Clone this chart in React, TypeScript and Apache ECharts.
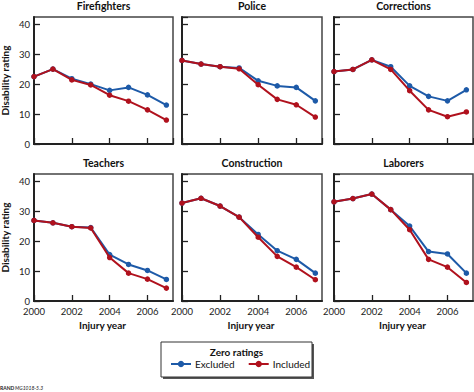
import React, { useEffect, useRef } from "react";
import * as echarts from "echarts";

const years = [2000, 2001, 2002, 2003, 2004, 2005, 2006, 2007];
const panelTitles = ["Firefighters", "Police", "Corrections", "Teachers", "Construction", "Laborers"];

const excludedFirefighters = [22.5, 25.0, 21.8, 20.0, 17.9, 18.9, 16.4, 13.0];
const includedFirefighters = [22.5, 25.0, 21.4, 19.7, 16.3, 14.3, 11.4, 8.0];
const excludedPolice = [27.9, 26.7, 25.8, 25.4, 21.1, 19.4, 18.9, 14.4];
const includedPolice = [27.9, 26.7, 25.8, 25.1, 19.8, 14.9, 13.1, 9.0];
const excludedCorrections = [24.2, 24.9, 28.1, 25.8, 19.4, 15.9, 14.4, 18.1];
const includedCorrections = [24.2, 24.9, 28.1, 24.9, 17.8, 11.4, 9.1, 10.7];
const excludedTeachers = [26.9, 26.1, 24.8, 24.5, 15.5, 12.2, 10.2, 7.2];
const includedTeachers = [26.9, 26.1, 24.8, 24.4, 14.5, 9.3, 7.3, 4.3];
const excludedConstruction = [32.7, 34.3, 31.7, 28.0, 22.2, 16.8, 13.9, 9.3];
const includedConstruction = [32.7, 34.3, 31.7, 28.0, 21.3, 14.9, 11.3, 7.1];
const excludedLaborers = [33.1, 34.2, 35.7, 30.5, 25.0, 16.5, 15.7, 9.3];
const includedLaborers = [33.1, 34.2, 35.7, 30.5, 23.8, 13.9, 11.3, 6.2];

const excludedAll = [excludedFirefighters, excludedPolice, excludedCorrections, excludedTeachers, excludedConstruction, excludedLaborers];
const includedAll = [includedFirefighters, includedPolice, includedCorrections, includedTeachers, includedConstruction, includedLaborers];

const xTickLabels = [2000, 2002, 2004, 2006];
const yTickLabels = [0, 10, 20, 30, 40];
const seriesNames = ["Excluded", "Included"];
const legendTitle = "Zero ratings";
const xAxisTitle = "Injury year";
const yAxisTitle = "Disability rating";

const BLUE = "#1d5aa8";
const RED = "#b0111d";
const FONT = "Lato, 'Liberation Sans', sans-serif";

export default function App() {
  const ref = useRef<HTMLDivElement>(null);
  useEffect(() => {
    if (!ref.current) return;
    const chart = echarts.init(ref.current, null, { renderer: "svg" });
    const colLeft = [34, 182, 334];
    const colWidth = [139, 140, 139];
    const rowTop = [17, 174];
    const rowHeight = 127;

    const grids: any[] = [];
    const xAxes: any[] = [];
    const yAxes: any[] = [];
    const series: any[] = [];
    const graphics: any[] = [];

    for (let i = 0; i < 6; i++) {
      const r = Math.floor(i / 3);
      const c = i % 3;
      grids.push({
        left: colLeft[c],
        top: rowTop[r],
        width: colWidth[c],
        height: rowHeight,
        show: true,
        borderColor: "#444",
        borderWidth: 1.5,
        backgroundColor: "transparent",
      });
      xAxes.push({
        type: "value",
        gridIndex: i,
        min: 2000,
        max: 2007.35,
        interval: 2,
        axisLine: { show: true, onZero: false, lineStyle: { color: "#222", width: 2 } },
        axisTick: { show: true, inside: true, length: 6, lineStyle: { color: "#222", width: 1.3 } },
        splitLine: { show: false },
        axisLabel: {
          show: r === 1,
          showMaxLabel: false,
          fontSize: 9.5,
          color: "#222",
          fontFamily: FONT,
          margin: 5,
          formatter: (v: number) => (xTickLabels.includes(v) ? String(v) : ""),
        },
      });
      yAxes.push({
        type: "value",
        gridIndex: i,
        min: 0,
        max: 42.4,
        interval: 10,
        axisLine: { show: true, lineStyle: { color: "#222", width: 2 } },
        axisTick: { show: true, inside: true, length: 6, lineStyle: { color: "#222", width: 1.3 } },
        splitLine: { show: false },
        axisLabel: {
          show: c === 0,
          showMaxLabel: false,
          fontSize: 9.5,
          color: "#222",
          fontFamily: FONT,
          margin: 4,
          formatter: (v: number) => (yTickLabels.includes(v) ? String(v) : ""),
        },
      });
      series.push({
        type: "line",
        name: seriesNames[0],
        xAxisIndex: i,
        yAxisIndex: i,
        data: years.map((y, j) => [y, excludedAll[i][j]]),
        symbol: "circle",
        symbolSize: 5.5,
        lineStyle: { color: BLUE, width: 2 },
        itemStyle: { color: BLUE },
        z: 2,
      });
      series.push({
        type: "line",
        name: seriesNames[1],
        xAxisIndex: i,
        yAxisIndex: i,
        data: years.map((y, j) => [y, includedAll[i][j]]),
        symbol: "circle",
        symbolSize: 5.5,
        lineStyle: { color: RED, width: 2 },
        itemStyle: { color: RED },
        z: 3,
      });
      graphics.push({
        type: "text",
        x: colLeft[c] + colWidth[c] / 2,
        y: rowTop[r] - 11,
        style: {
          text: panelTitles[i],
          fontSize: 10.5,
          fontWeight: "bold",
          fontFamily: FONT,
          fill: "#111",
          textAlign: "center",
          textVerticalAlign: "middle",
        },
      });
      if (r === 1) {
        graphics.push({
          type: "text",
          x: colLeft[c] + colWidth[c] / 2 - 1,
          y: 325,
          style: {
            text: xAxisTitle,
            fontSize: 10,
            fontWeight: "bold",
            fontFamily: FONT,
            fill: "#111",
            textAlign: "center",
            textVerticalAlign: "middle",
          },
        });
      }
      if (c === 0) {
        graphics.push({
          type: "text",
          x: 5,
          y: rowTop[r] + rowHeight / 2,
          rotation: Math.PI / 2,
          style: {
            text: yAxisTitle,
            fontSize: 10,
            fontWeight: "bold",
            fontFamily: FONT,
            fill: "#111",
            textAlign: "center",
            textVerticalAlign: "middle",
          },
        });
      }
    }

    // legend box
    graphics.push({
      type: "rect",
      shape: { x: 163, y: 344, width: 151, height: 35 },
      style: { fill: "#555" },
      z: -2,
    });
    graphics.push({
      type: "rect",
      shape: { x: 161, y: 342, width: 151, height: 35 },
      style: { fill: "#fff", stroke: "#333", lineWidth: 1 },
      z: -1,
    });
    graphics.push({
      type: "text",
      x: 236.5,
      y: 352,
      style: {
        text: legendTitle,
        fontSize: 10,
        fontWeight: "bold",
        fontFamily: FONT,
        fill: "#111",
        textAlign: "center",
        textVerticalAlign: "middle",
      },
    });
    graphics.push({
      type: "text",
      x: 0,
      y: 388,
      style: {
        text: "RAND",
        fontSize: 5,
        fontWeight: "bold",
        fontFamily: FONT,
        fill: "#222",
        textVerticalAlign: "middle",
      },
    });
    graphics.push({
      type: "text",
      x: 15,
      y: 388,
      style: {
        text: "MG1018-5.3",
        fontSize: 5,
        fontStyle: "italic",
        fontFamily: FONT,
        fill: "#222",
        textVerticalAlign: "middle",
      },
    });

    chart.setOption({
      animation: false,
      grid: grids,
      xAxis: xAxes,
      yAxis: yAxes,
      series,
      legend: {
        data: seriesNames,
        left: 165,
        top: 354,
        itemWidth: 20,
        itemHeight: 8,
        itemGap: 13,
        padding: 5,
        textStyle: { fontSize: 10, fontFamily: FONT, color: "#111", padding: [0, 0, 0, -1] },
        selectedMode: false,
      },
      graphic: graphics,
    });
    return () => chart.dispose();
  }, []);
  return (
    <div
      ref={ref}
      style={{ position: "fixed", left: 0, top: 0, width: 474, height: 392, background: "#fff" }}
    />
  );
}
